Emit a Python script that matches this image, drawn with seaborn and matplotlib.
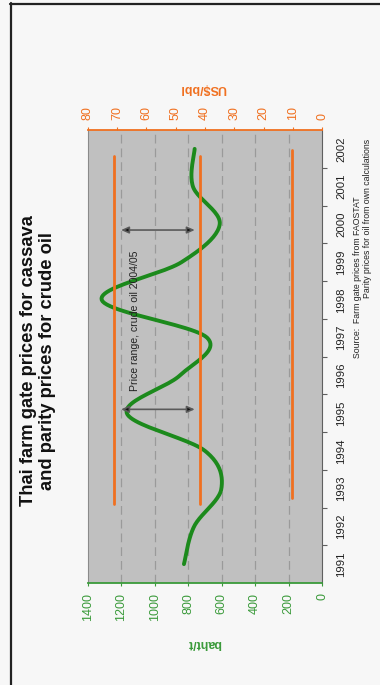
import numpy as np
import pandas as pd
import matplotlib
matplotlib.use("Agg")
import matplotlib.pyplot as plt
import seaborn as sns
from matplotlib.lines import Line2D
from matplotlib.ticker import FixedLocator, NullFormatter

# ---- data -------------------------------------------------------------
years = list(range(1991, 2003))
cassava_baht = [826, 765, 602, 700, 1168, 850, 688, 1318, 840, 612, 772, 762]

oil_parity_usd = [71.0, 41.7, 10.3]
oil_from_year = [1992.6, 1992.6, 1992.75]
oil_to_year = [2001.8, 2001.8, 2001.97]

oil_range_usd = [43.5, 68.7]
range_years = [1995.1, 1999.85]
range_label = "Price range, crude oil 2004/05"

baht_ticks = [0, 200, 400, 600, 800, 1000, 1200, 1400]
usd_ticks = [0, 10, 20, 30, 40, 50, 60, 70, 80]

title = "Thai farm gate prices for cassava\nand parity prices for crude oil"
source_line1 = "Source:  Farm gate prices from FAOSTAT"
source_line2 = "Parity prices for oil from own calculations"

# ---- style ------------------------------------------------------------
sns.set_style("white")
plt.rcParams["font.family"] = ["Liberation Sans", "DejaVu Sans"]

GREEN = "#1c8a1c"
GREEN_TXT = "#3a9a3a"
ORANGE = "#f07020"
PLOT_BG = "#c0c0c0"
FIG_BG = "#f7f7f7"

W, H = 380, 685


def smooth_path(xs, ys, n=24):
    """Bezier smoothing through every point (spreadsheet-style smoothed line)."""
    pts = np.column_stack([xs, ys]).astype(float)
    m = len(pts)
    out = []
    for i in range(m - 1):
        p0 = pts[max(i - 1, 0)]
        p1 = pts[i]
        p2 = pts[i + 1]
        p3 = pts[min(i + 2, m - 1)]
        c1 = p1 + (p2 - p0) / 6.0
        c2 = p2 - (p3 - p1) / 6.0
        t = np.linspace(0, 1, n, endpoint=(i == m - 2))[:, None]
        seg = ((1 - t) ** 3) * p1 + 3 * ((1 - t) ** 2) * t * c1 \
            + 3 * (1 - t) * t ** 2 * c2 + t ** 3 * p2
        out.append(seg)
    return np.vstack(out)


fig = plt.figure(figsize=(W / 100, H / 100), dpi=100, facecolor=FIG_BG)
ax = fig.add_axes([88 / W, 1 - 583 / H, 234 / W, 453 / H])
ax.set_facecolor(PLOT_BG)

# cassava price: horizontal = baht/t (reversed), vertical = year
curve = smooth_path(years, cassava_baht)
cassava_df = pd.DataFrame({"year": curve[:, 0], "baht": curve[:, 1]})
sns.lineplot(data=cassava_df, x="baht", y="year", sort=False, estimator=None,
             color=GREEN, lw=2.8, ax=ax, legend=False, zorder=3)

ax.set_xlim(1400, 0)
ax.set_ylim(1990.5, 2002.5)
ax.set_xlabel("")
ax.set_ylabel("")

# dashed value grid
for v in baht_ticks[1:-1]:
    ax.axvline(v, color="#9a9a9a", lw=0.9, dashes=(7, 4), zorder=1)

ax.xaxis.set_major_locator(FixedLocator(baht_ticks))
ax.set_xticklabels([str(v) for v in baht_ticks], rotation=90, fontsize=9,
                   color=GREEN_TXT, va="top", ha="center")
ax.tick_params(axis="x", bottom=True, top=False, length=2.5, width=0.8,
               color=GREEN_TXT, pad=4.5)

ax.yaxis.tick_right()
ax.yaxis.set_major_locator(FixedLocator(years))
ax.set_yticklabels([str(y) for y in years], rotation=90, fontsize=8.2,
                   color="#222222", va="center", ha="left")
ax.yaxis.set_minor_locator(FixedLocator([y + 0.5 for y in years[:-1]]))
ax.yaxis.set_minor_formatter(NullFormatter())
ax.tick_params(axis="y", which="major", left=False, right=True, length=0, pad=10)
ax.tick_params(axis="y", which="minor", left=False, right=True, length=3.5,
               width=0.8, color="#606060")

ax.spines["bottom"].set_color(GREEN_TXT)
ax.spines["bottom"].set_linewidth(1.3)
ax.spines["top"].set_visible(False)
ax.spines["left"].set_color("#8a8a8a")
ax.spines["left"].set_linewidth(0.8)
ax.spines["right"].set_color("#606060")
ax.spines["right"].set_linewidth(0.8)

# crude oil parity prices on the US$/bbl scale
ax2 = ax.twiny()
oil_df = pd.DataFrame({
    "usd": [u for u in oil_parity_usd for _ in range(2)],
    "year": [y for pair in zip(oil_from_year, oil_to_year) for y in pair],
    "line": [k for k in range(len(oil_parity_usd)) for _ in range(2)],
})
sns.lineplot(data=oil_df, x="usd", y="year", units="line", estimator=None,
             sort=False, color=ORANGE, lw=2.0, ax=ax2, legend=False, zorder=2)
ax2.set_xlim(80, 0)
ax2.set_ylim(1990.5, 2002.5)
ax2.set_xlabel("")
ax2.set_ylabel("")
ax2.xaxis.set_major_locator(FixedLocator(usd_ticks))
ax2.set_xticklabels([str(v) for v in usd_ticks], rotation=90, fontsize=9,
                    color=ORANGE, va="bottom", ha="center")
ax2.tick_params(axis="x", top=True, bottom=False, length=2.5, width=0.8,
                color=ORANGE, pad=4.5)
for side in ("bottom", "left", "right"):
    ax2.spines[side].set_visible(False)
ax2.spines["top"].set_color(ORANGE)
ax2.spines["top"].set_linewidth(1.3)

# price range arrows
for yr in range_years:
    ax2.annotate("", xy=(oil_range_usd[1], yr), xytext=(oil_range_usd[0], yr),
                 arrowprops=dict(arrowstyle="<|-|>,head_length=0.45,head_width=0.2",
                                 facecolor="#111111", edgecolor="#5a5a5a",
                                 lw=1.2, shrinkA=0, shrinkB=0), zorder=4)
ax2.text(64.1, 1997.44, range_label, rotation=90, ha="center", va="center",
         fontsize=7.6, color="#222222", zorder=5)

# axis titles
fig.text(204 / W, 1 - 643 / H, "baht/t", rotation=180, ha="center", va="center",
         fontsize=9, fontweight="bold", color=GREEN_TXT)
fig.text(203 / W, 1 - 88 / H, "US$/bbl", rotation=180, ha="center", va="center",
         fontsize=9, fontweight="bold", color=ORANGE)

# chart title
fig.text(38 / W, 1 - 361 / H, title, rotation=90, ha="center", va="center",
         multialignment="center", fontsize=13.2, fontweight="bold",
         color="#111111", linespacing=1.15)

# source note
fig.text(358 / W, 1 - 358 / H, source_line1, rotation=90, ha="center",
         va="bottom", fontsize=6.3, color="#222222")
fig.text(368 / W, 1 - 298 / H, source_line2, rotation=90, ha="center",
         va="bottom", fontsize=6.3, color="#222222")

# slide frame
fig.add_artist(Line2D([10 / W, 1], [1 - 3.5 / H] * 2, color="#222222", lw=1.6))
fig.add_artist(Line2D([10.5 / W] * 2, [0, 1 - 3 / H], color="#222222", lw=1.6))

fig.savefig("out.png", dpi=100, facecolor=FIG_BG)
